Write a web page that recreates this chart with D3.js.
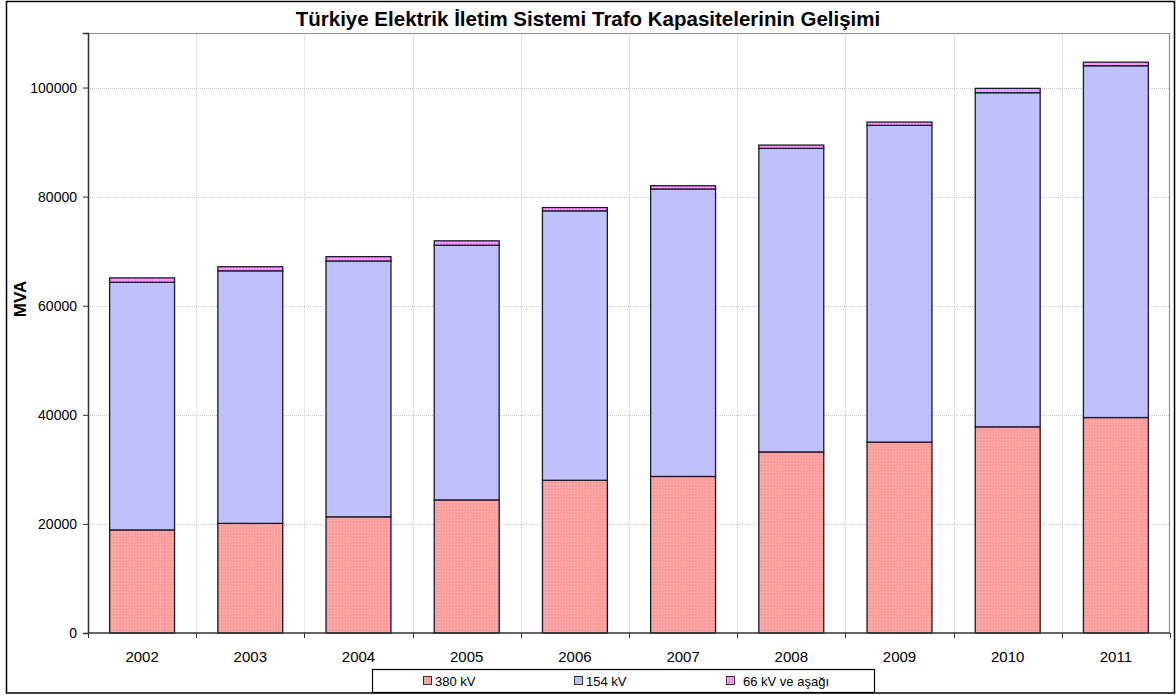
<!DOCTYPE html>
<html>
<head>
<meta charset="utf-8">
<script src="https://cdn.jsdelivr.net/npm/d3@7.9.0/dist/d3.min.js"></script>
<style>
  body { margin: 0; background: #fff; }
  svg { display: block; font-family: Arial, "Liberation Sans", sans-serif; }
</style>
</head>
<body>
<svg id="chart" width="1176" height="695"></svg>
<script>
const years = ['2002', '2003', '2004', '2005', '2006', '2007', '2008', '2009', '2010', '2011'];
const kv380 = [18900, 20100, 21300, 24400, 28000, 28700, 33200, 35000, 37800, 39500];
const kv154 = [45400, 46300, 46900, 46700, 49400, 52700, 55650, 58070, 61250, 64500];
const kv66 = [800, 750, 800, 800, 600, 600, 600, 600, 800, 650];
const seriesNames = ['380 kV', '154 kV', '66 kV ve aşağı'];
const yTicks = [0, 20000, 40000, 60000, 80000, 100000];

const colors = ['#ff9c9c', '#c0c0ff', '#ff88ff'];

const svg = d3.select('#chart');
const W = 1176, H = 695;
const plot = { left: 88, top: 33, right: 1170, bottom: 633 };

// pattern for the dotted 380 kV fill
const defs = svg.append('defs');
const pat = defs.append('pattern')
  .attr('id', 'dots').attr('width', 3).attr('height', 3)
  .attr('patternUnits', 'userSpaceOnUse');
pat.append('rect').attr('width', 3).attr('height', 3).attr('fill', colors[0]);
pat.append('rect').attr('x', 1).attr('y', 1).attr('width', 1).attr('height', 1).attr('fill', '#ffc0c0');
const pat2 = defs.append('pattern')
  .attr('id', 'stripes').attr('width', 3).attr('height', 3)
  .attr('patternUnits', 'userSpaceOnUse');
pat2.append('rect').attr('width', 3).attr('height', 3).attr('fill', colors[2]);
pat2.append('rect').attr('x', 1).attr('width', 1).attr('height', 3).attr('fill', '#ffb0ff');
const fills = ['url(#dots)', colors[1], 'url(#stripes)'];

// outer frame
svg.append('rect')
  .attr('x', 6.5).attr('y', 1.5).attr('width', W - 8).attr('height', H - 3.5)
  .attr('fill', 'none').attr('stroke', '#000').attr('stroke-width', 1.5);

const x = d3.scaleBand()
  .domain(years)
  .range([plot.left, plot.right])
  .paddingInner(0.4)
  .paddingOuter(0.2);
const step = x.step();

const y = d3.scaleLinear()
  .domain([0, 110000])
  .range([plot.bottom, plot.top]);

// gridlines
const grid = svg.append('g').attr('stroke', '#cccccc').attr('stroke-width', 1)
  .attr('stroke-dasharray', '1,1');
grid.selectAll('line.h')
  .data(yTicks.slice(1))
  .enter().append('line')
  .attr('x1', plot.left).attr('x2', plot.right)
  .attr('y1', d => Math.round(y(d)) + 0.5).attr('y2', d => Math.round(y(d)) + 0.5);
grid.selectAll('line.v')
  .data(years.slice(1))
  .enter().append('line')
  .attr('x1', d => Math.round(x(d) - step * 0.2) + 0.5)
  .attr('x2', d => Math.round(x(d) - step * 0.2) + 0.5)
  .attr('y1', plot.top).attr('y2', plot.bottom);

// plot area border (top / right)
svg.append('path')
  .attr('d', `M${plot.left},${plot.top + 0.5}H${plot.right - 0.5}V${plot.bottom}`)
  .attr('fill', 'none').attr('stroke', '#8c8c8c').attr('stroke-width', 1.2);

// stacked bars
const rows = years.map((yr, i) => ({ year: yr, a: kv380[i], b: kv154[i], c: kv66[i] }));
const stack = d3.stack().keys(['a', 'b', 'c']);
const layers = stack(rows);

svg.append('g')
  .selectAll('g')
  .data(layers)
  .enter().append('g')
  .attr('fill', (d, i) => fills[i])
  .selectAll('rect')
  .data(d => d)
  .enter().append('rect')
  .attr('x', d => x(d.data.year))
  .attr('width', x.bandwidth())
  .attr('y', d => y(d[1]))
  .attr('height', d => y(d[0]) - y(d[1]))
  .attr('stroke', '#1a1a2a')
  .attr('stroke-width', 1.3);

// y axis
const yAxis = svg.append('g')
  .attr('transform', `translate(${plot.left},0)`)
  .call(d3.axisLeft(y).tickValues(yTicks).tickSize(5).tickPadding(6).tickFormat(d3.format('d')));
yAxis.select('.domain').attr('stroke', '#333').attr('stroke-width', 1.5);
yAxis.selectAll('.tick line').attr('stroke', '#333');
yAxis.selectAll('text').attr('font-size', 14).attr('fill', '#000')
  .attr('font-family', 'Arial, "Liberation Sans", sans-serif');

// x axis (ticks on category boundaries)
const xAxisG = svg.append('g').attr('transform', `translate(0,${plot.bottom})`);
xAxisG.append('line')
  .attr('x1', plot.left).attr('x2', plot.right)
  .attr('stroke', '#333').attr('stroke-width', 1.5);
const bounds = d3.range(years.length + 1).map(i => plot.left + i * step);
xAxisG.selectAll('line.t')
  .data(bounds)
  .enter().append('line')
  .attr('x1', d => Math.round(d) + 0.5).attr('x2', d => Math.round(d) + 0.5)
  .attr('y1', 0).attr('y2', 5)
  .attr('stroke', '#333');
xAxisG.selectAll('text')
  .data(years)
  .enter().append('text')
  .attr('x', d => x(d) + x.bandwidth() / 2)
  .attr('y', 29)
  .attr('text-anchor', 'middle')
  .attr('font-size', 15)
  .text(d => d);

// title
svg.append('text')
  .attr('x', 588)
  .attr('y', 26)
  .attr('text-anchor', 'middle')
  .attr('font-size', 20.5)
  .attr('font-weight', 'bold')
  .text('Türkiye Elektrik İletim Sistemi Trafo Kapasitelerinin Gelişimi');

// y title
svg.append('text')
  .attr('transform', 'translate(26,299) rotate(-90)')
  .attr('text-anchor', 'middle')
  .attr('font-size', 17)
  .attr('font-weight', 'bold')
  .text('MVA');

// legend
const legend = svg.append('g');
legend.append('rect')
  .attr('x', 372.5).attr('y', 669.5).attr('width', 502).attr('height', 23)
  .attr('fill', '#fff').attr('stroke', '#000').attr('stroke-width', 1.2);
const legX = [423, 574, 726];
const items = legend.selectAll('g.item')
  .data(seriesNames)
  .enter().append('g')
  .attr('transform', (d, i) => `translate(${legX[i]},676)`);
items.append('rect')
  .attr('width', 8).attr('height', 8).attr('x', 0.5).attr('y', 0.5)
  .attr('fill', (d, i) => fills[i])
  .attr('stroke', '#333').attr('stroke-width', 1);
items.append('text')
  .attr('x', (d, i) => i === 2 ? 17 : 12)
  .attr('y', 9.5)
  .attr('font-size', 13)
  .text(d => d);
</script>
</body>
</html>
